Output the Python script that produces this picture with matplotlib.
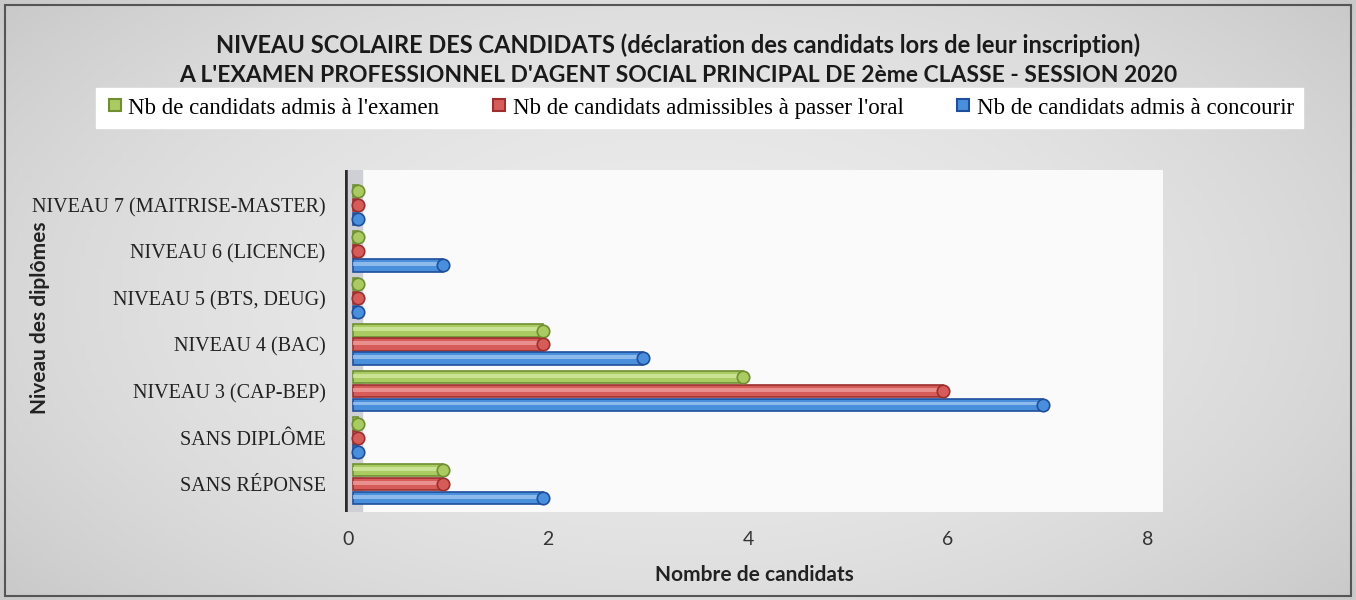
import numpy as np
import matplotlib
matplotlib.use('Agg')
from matplotlib import pyplot as plt
from matplotlib.lines import Line2D
from matplotlib.patches import Rectangle
from matplotlib.colors import LinearSegmentedColormap

categories = ['SANS RÉPONSE', 'SANS DIPLÔME', 'NIVEAU 3 (CAP-BEP)', 'NIVEAU 4 (BAC)',
              'NIVEAU 5 (BTS, DEUG)', 'NIVEAU 6 (LICENCE)', 'NIVEAU 7 (MAITRISE-MASTER)']
admis_examen = [1, 0, 4, 2, 0, 0, 0]
admissibles_oral = [1, 0, 6, 2, 0, 0, 0]
admis_concourir = [2, 0, 7, 3, 0, 1, 0]
series_names = ["Nb de candidats admis à l'examen",
                "Nb de candidats admissibles à passer l'oral",
                "Nb de candidats admis à concourir"]
xticks = [0, 2, 4, 6, 8]

serif = 'Liberation Serif'
sans = 'Lato'

# fill, edge, highlight
styles = [('#aacb62', '#6f8f32', '#d2e8a0'),
          ('#d65c5a', '#9c2f2d', '#ee9d9b'),
          ('#4a8fdc', '#1f4f9c', '#9cc6f0')]
offsets = [0.3, 0.0, -0.3]
bar_h = 0.27

fig = plt.figure(figsize=(13.56, 6), dpi=100, facecolor='#d8d8d8')

# scanned paper look: light centre, slightly darker edges
bg = fig.add_axes([0, 0, 1, 1], zorder=-10)
gx, gy = np.meshgrid(np.linspace(-1, 1, 300), np.linspace(-1, 1, 150))
paper = LinearSegmentedColormap.from_list('paper', ['#c9c9c9', '#ebebeb'])
bg.imshow(-(gx ** 2 * 0.6 + gy ** 2 * 0.4), cmap=paper, vmin=-1, vmax=0,
          aspect='auto', extent=[0, 1, 0, 1])
bg.set_axis_off()
fig.patches.append(Rectangle((0.004, 0.006), 0.992, 0.985, transform=fig.transFigure,
                             fill=False, edgecolor='#555555', linewidth=1.5))

ax = fig.add_axes([345 / 1356, 1 - 512 / 600, (1163 - 345) / 1356, 342 / 600])
ax.set_facecolor('#fafafa')
ax.set_xlim(-0.03, 8.15)
ax.set_ylim(-0.6, 6.75)

# 3D wall on the left
ax.axvspan(-0.03, 0.14, color='#cfd0d6', zorder=1)
ax.axvline(-0.03, color='#2b2b2b', linewidth=4, zorder=5)

y = np.arange(len(categories))
all_vals = [admis_examen, admissibles_oral, admis_concourir]
for vals, off, (fc, ec, hc) in zip(all_vals, offsets, styles):
    vals = np.array(vals, dtype=float)
    cap_x = np.maximum(vals - 0.05, 0.1)
    ax.barh(y + off, cap_x - 0.05, height=bar_h, left=0.05, color=fc, edgecolor=ec,
            linewidth=1.2, zorder=3)
    ax.barh(y + off + 0.03, cap_x - 0.05, height=bar_h * 0.3, left=0.05, color=hc,
            linewidth=0, alpha=0.8, zorder=4)
    ax.scatter(cap_x, y + off, s=80, color=fc, edgecolor=ec, linewidth=1.2, zorder=4)

ax.set_yticks(y)
ax.set_yticklabels(categories, fontfamily=serif, fontsize=14.5, color='#222222')
ax.set_xticks(xticks)
ax.set_xticklabels([str(t) for t in xticks], fontfamily=sans, fontsize=14, color='#333333')
ax.tick_params(axis='y', length=0, pad=14)
ax.tick_params(axis='x', length=0, pad=14)
for s in ax.spines.values():
    s.set_visible(False)

ax.set_xlabel('Nombre de candidats', fontfamily=sans, fontsize=15, fontweight='bold',
              color='#222222', labelpad=12)
fig.text(40 / 1356, 1 - 318 / 600, 'Niveau des diplômes', rotation=90, ha='center',
         va='center', fontfamily=sans, fontsize=15, fontweight='bold', color='#222222')

fig.text(0.5, 1 - 45 / 600,
         'NIVEAU SCOLAIRE DES CANDIDATS (déclaration des candidats lors de leur inscription)',
         ha='center', va='center', fontfamily=sans, fontsize=17, fontweight='bold',
         color='#1a1a1a')
fig.text(0.5, 1 - 75 / 600,
         "A L'EXAMEN PROFESSIONNEL D'AGENT SOCIAL PRINCIPAL DE 2ème CLASSE - SESSION 2020",
         ha='center', va='center', fontfamily=sans, fontsize=16.5, fontweight='bold',
         color='#1a1a1a')

handles = [Line2D([], [], marker='s', linestyle='none', markersize=9,
                  markerfacecolor=fc, markeredgecolor=ec, markeredgewidth=1.5)
           for fc, ec, hc in styles]
leg = fig.legend(handles, series_names, loc='center', bbox_to_anchor=(0.516, 1 - 108 / 600),
                 ncol=3, frameon=True, fancybox=False, facecolor='white', edgecolor='white',
                 framealpha=1, handlelength=0.8, handletextpad=0.2, columnspacing=2.2,
                 borderpad=0.4, prop={'family': serif, 'size': 16.5})

fig.savefig('out.png', dpi=100, facecolor=fig.get_facecolor())
